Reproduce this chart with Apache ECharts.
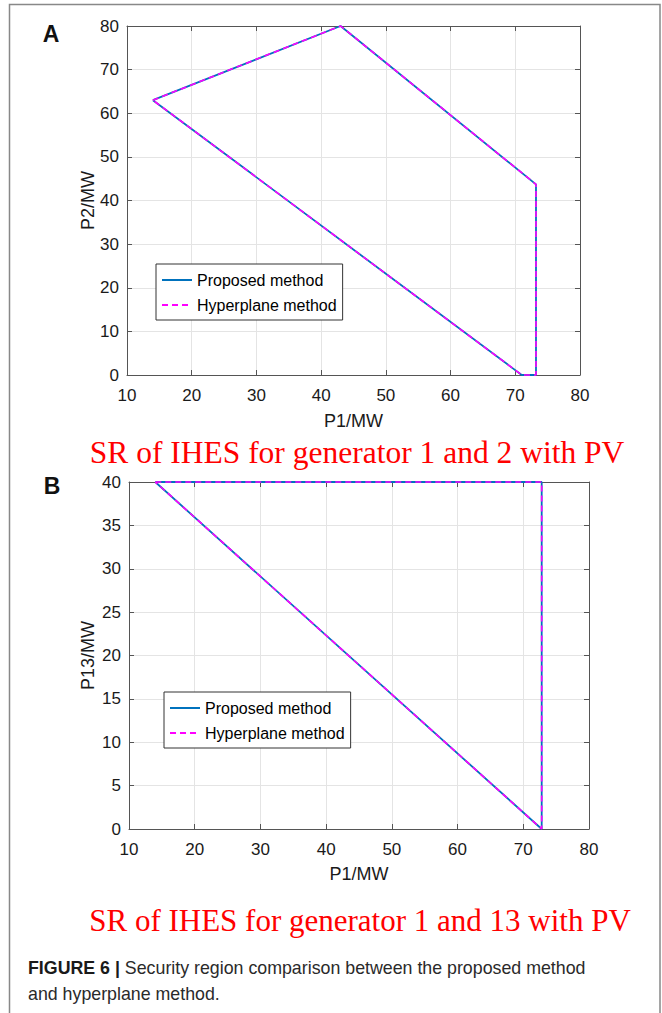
<!DOCTYPE html>
<html>
<head>
<meta charset="utf-8">
<script src="https://cdn.jsdelivr.net/npm/echarts@6/dist/echarts.min.js"></script>
<style>
html,body{margin:0;padding:0;background:#fff;}
#chart{width:662px;height:1013px;}
</style>
</head>
<body>
<div id="chart"></div>
<script>
// ---- Data ----
const seriesNames = ['Proposed method', 'Hyperplane method'];
// Panel A: generator 1 (P1) vs generator 2 (P2), polygon vertices in order
const panelA_P1 = [14, 43, 73.2, 73.2, 71, 14];
const panelA_P2 = [63, 80, 43.7, 0, 0, 63];
// Panel B: generator 1 (P1) vs generator 13 (P13)
const panelB_P1 = [14, 72.8, 72.8, 14];
const panelB_P13 = [40, 40, 0, 40];
// Axis ranges / tick steps
const xRange = [10, 80, 10];
const yRangeA = [0, 80, 10];
const yRangeB = [0, 40, 5];
// Texts
const axisNames = { x: 'P1/MW', yA: 'P2/MW', yB: 'P13/MW' };
const panelTitles = ['SR of IHES for generator 1 and 2 with PV', 'SR of IHES for generator 1 and 13 with PV'];
const captionBold = 'FIGURE 6 |';
const captionLine1 = ' Security region comparison between the proposed method';
const captionLine2 = 'and hyperplane method.';

const pairs = (xs, ys) => xs.map((x, i) => [x, ys[i]]);
const SANS = 'Liberation Sans, Arial, sans-serif';
const SERIF = 'Liberation Serif, Times New Roman, serif';
const AX = '#555';

function mainAxis(gridIndex, range, pos, name, nameGap, isY) {
  return {
    gridIndex, type: 'value', min: range[0], max: range[1], interval: range[2],
    position: pos, name, nameLocation: 'middle', nameGap, nameMoveOverlap: false,
    nameTextStyle: { fontFamily: SANS, fontSize: 18, color: '#1a1a1a' },
    axisLine: { show: true, onZero: false, lineStyle: { color: AX, width: 1 } },
    axisTick: { show: true, inside: true, length: 5, lineStyle: { color: AX } },
    axisLabel: { show: true, fontFamily: SANS, fontSize: 17, color: '#1a1a1a', margin: isY ? 8 : 12 },
    splitLine: { show: true, lineStyle: { color: '#e4e4e4', width: 1 } }
  };
}
function boxAxis(gridIndex, range, pos) {
  return {
    gridIndex, type: 'value', min: range[0], max: range[1], interval: range[2], position: pos,
    axisLine: { show: true, onZero: false, lineStyle: { color: AX, width: 1 } },
    axisTick: { show: true, inside: true, length: 5, lineStyle: { color: AX } },
    axisLabel: { show: false }, splitLine: { show: false }
  };
}
function lineSeries(name, data, xi, yi, dashed) {
  return {
    name, type: 'line', data, xAxisIndex: xi, yAxisIndex: yi,
    symbol: 'none', showSymbol: false, clip: false, animation: false, z: dashed ? 3 : 2,
    lineStyle: dashed ? { color: '#ff00ff', width: 1.6, type: [6, 4] } : { color: '#0072bd', width: 1.8 },
    itemStyle: { color: dashed ? '#ff00ff' : '#0072bd' }
  };
}
function legendAt(left, top) {
  return {
    left, top, orient: 'vertical', itemWidth: 30, itemHeight: 10, itemGap: 9,
    padding: [8, 6, 7, 5], borderColor: '#333', borderWidth: 1, backgroundColor: '#fff',
    textStyle: { fontFamily: SANS, fontSize: 16, color: '#000' },
    itemStyle: { opacity: 0 },
    data: seriesNames, selectedMode: false
  };
}

const chart = echarts.init(document.getElementById('chart'), null, { renderer: 'svg' });
chart.setOption({
  animation: false,
  backgroundColor: '#fff',
  grid: [
    { left: 127, top: 26, width: 453, height: 349 },
    { left: 129, top: 482, width: 460, height: 347 }
  ],
  xAxis: [
    mainAxis(0, xRange, 'bottom', axisNames.x, 37, false),
    boxAxis(0, xRange, 'top'),
    mainAxis(1, xRange, 'bottom', axisNames.x, 36, false),
    boxAxis(1, xRange, 'top')
  ],
  yAxis: [
    mainAxis(0, yRangeA, 'left', axisNames.yA, 30, true),
    boxAxis(0, yRangeA, 'right'),
    mainAxis(1, yRangeB, 'left', axisNames.yB, 32, true),
    boxAxis(1, yRangeB, 'right')
  ],
  legend: [legendAt(156, 264), legendAt(164, 692)],
  series: [
    lineSeries(seriesNames[0], pairs(panelA_P1, panelA_P2), 0, 0, false),
    lineSeries(seriesNames[1], pairs(panelA_P1, panelA_P2), 0, 0, true),
    lineSeries(seriesNames[0], pairs(panelB_P1, panelB_P13), 2, 2, false),
    lineSeries(seriesNames[1], pairs(panelB_P1, panelB_P13), 2, 2, true)
  ],
  graphic: [
    { type: 'rect', silent: true, z: 0, shape: { x: 9.5, y: 4.5, width: 650.5, height: 1040 },
      style: { fill: 'none', stroke: '#888', lineWidth: 1.5 } },
    { type: 'text', x: 51, y: 34, style: { text: 'A', font: 'bold 23px ' + SANS, fill: '#111', textAlign: 'center', textVerticalAlign: 'middle' } },
    { type: 'text', x: 52, y: 486, style: { text: 'B', font: 'bold 23px ' + SANS, fill: '#111', textAlign: 'center', textVerticalAlign: 'middle' } },
    { type: 'text', x: 357, y: 452, style: { text: panelTitles[0], font: '31.5px ' + SERIF, fill: '#ff0000', textAlign: 'center', textVerticalAlign: 'middle' } },
    { type: 'text', x: 360, y: 920, style: { text: panelTitles[1], font: '31px ' + SERIF, fill: '#ff0000', textAlign: 'center', textVerticalAlign: 'middle' } },
    { type: 'text', x: 28, y: 968, style: {
        text: '{b|' + captionBold + '}{r|' + captionLine1 + '}',
        textVerticalAlign: 'middle',
        rich: {
          b: { fontFamily: SANS, fontWeight: 'bold', fontSize: 17.8, fill: '#1a1a1a', color: '#1a1a1a' },
          r: { fontFamily: SANS, fontSize: 17.8, fill: '#2a2a2a', color: '#2a2a2a' }
        } } },
    { type: 'text', x: 28, y: 994, style: { text: captionLine2, font: '17.8px ' + SANS, fill: '#2a2a2a', textVerticalAlign: 'middle' } }
  ]
});
</script>
</body>
</html>
